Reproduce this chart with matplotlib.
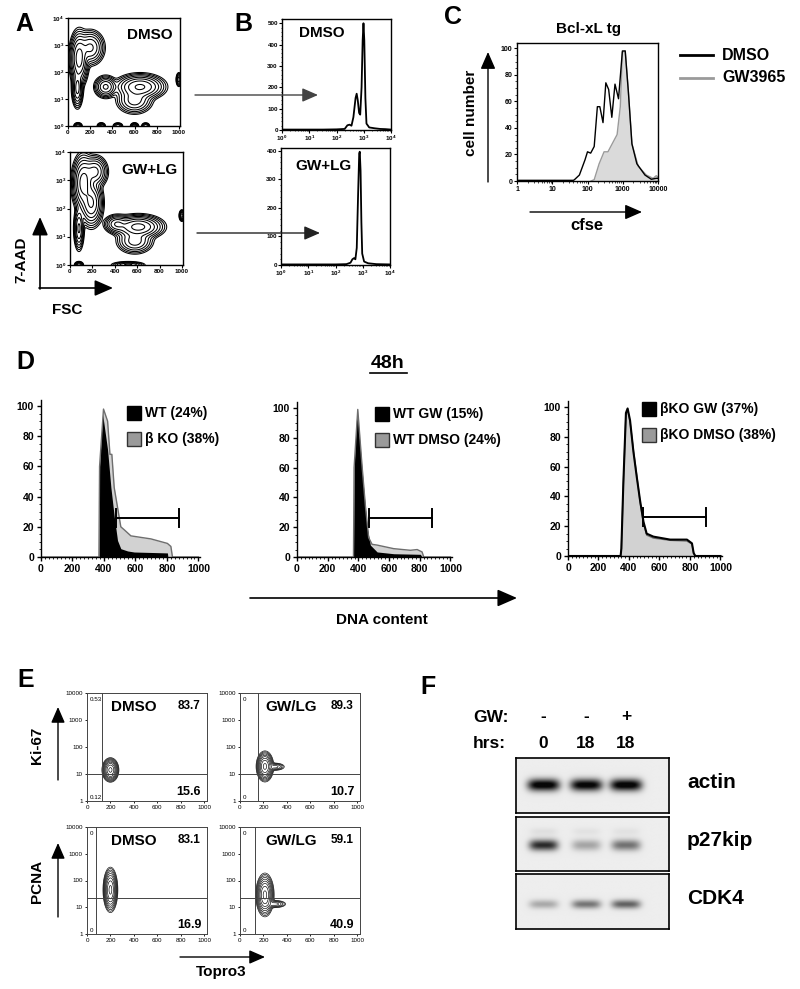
import numpy as np
import matplotlib.pyplot as plt
from matplotlib.ticker import MultipleLocator, FixedLocator, LogLocator

plt.rcParams['font.family'] = ['Liberation Sans', 'DejaVu Sans']
plt.rcParams['font.weight'] = 'bold'
plt.rcParams['mathtext.fontset'] = 'custom'
plt.rcParams['mathtext.rm'] = 'Liberation Sans:bold'
plt.rcParams['mathtext.it'] = 'Liberation Sans:bold'
plt.rcParams['mathtext.bf'] = 'Liberation Sans:bold'
plt.rcParams['axes.linewidth'] = 1.0

# ---------------- data ----------------
# A: 7-AAD vs FSC populations (fsc centre, log10 7-AAD centre, sd fsc, sd log, weight)
a_dmso_pops = [(100, 2.5, 32, 0.38, 1.0), (200, 2.9, 50, 0.25, 0.45), (85, 1.4, 20, 0.28, 0.5),
               (650, 1.45, 85, 0.18, 0.8), (340, 1.45, 40, 0.16, 0.45), (600, 0.95, 65, 0.2, 0.3),
               (1000, 1.72, 10, 0.1, 0.3), (90, 0.0, 15, 0.05, 0.3), (300, 0.0, 15, 0.05, 0.25),
               (450, 0.0, 18, 0.05, 0.2), (600, 0.0, 15, 0.05, 0.25), (700, 0.0, 15, 0.05, 0.2)]
a_gwlg_pops = [(120, 2.9, 38, 0.38, 1.0), (190, 2.2, 40, 0.32, 0.8), (80, 1.3, 18, 0.3, 0.45),
               (220, 3.3, 45, 0.22, 0.5), (610, 1.35, 85, 0.16, 0.9), (420, 1.45, 45, 0.13, 0.4),
               (580, 0.85, 65, 0.18, 0.3), (1000, 1.75, 10, 0.08, 0.3), (80, 0.0, 16, 0.05, 0.3),
               (520, 0.0, 60, 0.05, 0.25)]

# B: histograms (log10 intensity, count)
b_dmso_lx = [0, 0.5, 1, 1.5, 2, 2.3, 2.4, 2.48, 2.55, 2.62, 2.7, 2.74, 2.78, 2.83, 2.87, 2.92,
             2.96, 2.99, 3.02, 3.06, 3.1, 3.2, 3.4, 3.6, 3.8, 4]
b_dmso_y = [2, 2, 2, 2, 3, 5, 22, 25, 20, 60, 150, 170, 140, 80, 72, 200, 420, 500, 420, 150, 30,
            12, 8, 5, 4, 2]
b_gwlg_lx = [0, 1, 2, 2.4, 2.55, 2.62, 2.68, 2.73, 2.78, 2.83, 2.87, 2.89, 2.92, 2.95, 2.98, 3.05,
             3.2, 3.5, 4]
b_gwlg_y = [2, 2, 2, 3, 8, 20, 24, 20, 60, 250, 390, 397, 330, 150, 40, 12, 6, 3, 2]

# C: cfse dilution (log10 cfse, % max)
c_dmso_lx = [0, 1.0, 1.6, 1.63, 1.77, 1.93, 2.0, 2.09, 2.19, 2.28, 2.35, 2.44, 2.52, 2.6, 2.69,
             2.78, 2.88, 2.99, 3.07, 3.16, 3.26, 3.4, 3.63, 3.81, 3.95, 4.0]
c_dmso_y = [0.5, 0.5, 0.5, 1, 4.5, 16, 22, 21, 26, 56, 56, 44, 74, 69, 48, 73, 62, 98, 98, 67, 28,
            13, 4.5, 1.3, 2, 2]
c_gw_lx = [2.1, 2.19, 2.33, 2.47, 2.58, 2.7, 2.84, 2.93, 2.99, 3.07, 3.16, 3.26, 3.44, 3.67, 3.86,
           3.95, 4.0]
c_gw_y = [0, 1, 13, 22, 22, 28, 35, 56, 97, 98, 67, 28, 11, 4.5, 2, 4, 3]

# D: DNA content histograms
d1_wt_x = [0, 368, 372, 391, 423, 444, 465, 486, 507, 550, 592, 700, 803, 806, 1000]
d1_wt_y = [0, 0, 60, 95, 71, 46, 27, 11, 5.5, 4, 3.3, 3, 2.7, 0, 0]
d1_ko_x = [0, 368, 372, 397, 423, 438, 450, 465, 486, 507, 529, 571, 634, 698, 803, 825, 835, 1000]
d1_ko_y = [0, 0, 60, 98, 90, 68, 68, 46, 33, 20, 18, 14, 13, 12, 9, 7, 0, 0]
d2_gw_x = [0, 368, 372, 391, 413, 435, 457, 478, 522, 630, 804, 815, 1000]
d2_gw_y = [0, 0, 60, 100, 72, 45, 20, 8, 3.4, 2.2, 1.8, 0, 0]
d2_dmso_x = [0, 368, 372, 396, 424, 446, 467, 489, 522, 630, 739, 783, 815, 826, 1000]
d2_dmso_y = [0, 0, 60, 99, 61, 34, 13, 8.5, 8, 5.6, 4.5, 5, 3.4, 0, 0]
d3_gw_x = [0, 345, 350, 363, 380, 391, 407, 429, 451, 473, 495, 516, 560, 670, 780, 813, 824, 835, 1000]
d3_gw_y = [0, 0, 5, 49, 96, 99, 91, 70, 53, 37, 23, 15, 13, 11, 11, 8.5, 2, 0, 0]
d3_dmso_x = [0, 345, 350, 363, 380, 391, 407, 429, 451, 473, 495, 516, 560, 670, 780, 813, 824, 835, 1000]
d3_dmso_y = [0, 0, 5, 48, 95, 98, 90, 71, 54, 36, 22, 14, 12, 10.5, 10, 8, 2, 0, 0]
d_gates = [(476, 877), (467, 880), (490, 903)]
d_labels = [('WT (24%)', 'β KO (38%)'), ('WT GW (15%)', 'WT DMSO (24%)'),
            ('βKO GW (37%)', 'βKO DMSO (38%)')]

# E: Ki-67 / PCNA vs Topro3 (x centre, log10 y centre, sd x, sd log, weight)
e_pops = [
    [(200, 1.15, 24, 0.15, 1.0)],
    [(213, 1.28, 25, 0.19, 1.0), (300, 1.27, 35, 0.06, 0.12)],
    [(200, 1.65, 21, 0.28, 1.0)],
    [(213, 1.46, 26, 0.27, 1.0), (300, 1.12, 40, 0.06, 0.12)],
]
e_titles = ['DMSO', 'GW/LG', 'DMSO', 'GW/LG']
e_upper_right = ['83.7', '89.3', '83.1', '59.1']
e_lower_right = ['15.6', '10.7', '16.9', '40.9']
e_upper_left = ['0.53', '0', '0', '0']
e_lower_left = ['0.12', '0', '0', '0']
e_gate_x = [128, 156, 77, 128]
e_gate_y = [10, 10, 22, 23]

# F: western blot band intensities per lane
f_gw = ['-', '-', '+']
f_hrs = ['0', '18', '18']
f_blots = ['actin', 'p27kip', 'CDK4']
f_actin = [1.0, 0.97, 1.0]
f_p27 = [0.95, 0.35, 0.6]
f_p27_upper = [0.12, 0.1, 0.1]
f_cdk4 = [0.35, 0.62, 0.72]

# ---------------- layout ----------------
W, H = 800, 989
fig = plt.figure(figsize=(W / 100, H / 100), dpi=100)


def ax_px(l, t, r, b):
    return fig.add_axes([l / W, 1 - b / H, (r - l) / W, (b - t) / H])


def density(pops, xs, ly):
    X, Y = np.meshgrid(xs, ly)
    Z = np.zeros_like(X)
    for cx, cy, sx, sy, w in pops:
        Z += w * np.exp(-0.5 * ((X - cx) / sx) ** 2 - 0.5 * ((Y - cy) / sy) ** 2)
    return X, 10 ** Y, Z


log_labels = [r'$10^{%d}$' % i for i in range(5)]

# ---- A ----
for pops, box in [(a_dmso_pops, (68, 18, 180, 126)), (a_gwlg_pops, (70, 152, 183, 265))]:
    ax = ax_px(*box)
    X, Y, Z = density(pops, np.linspace(-20, 1060, 400), np.linspace(-0.4, 4.2, 400))
    ax.contour(X, Y, Z, levels=np.geomspace(0.01, 0.7, 8) * Z.max(), colors='k', linewidths=0.75)
    ax.set_yscale('log')
    ax.set_xlim(0, 1010)
    ax.set_ylim(1, 1e4)
    ax.set_xticks(range(0, 1001, 200))
    ax.yaxis.set_major_locator(FixedLocator([1, 10, 100, 1000, 10000]))
    ax.yaxis.set_minor_locator(FixedLocator([]))
    ax.set_yticklabels(log_labels)
    ax.tick_params(labelsize=4.5, length=2, width=0.8, pad=1)

# ---- B ----
for lx, y, box, ymax, yt in [(b_dmso_lx, b_dmso_y, (282, 19, 391, 130), 520, range(0, 501, 100)),
                              (b_gwlg_lx, b_gwlg_y, (281, 148, 390, 265), 410, range(0, 401, 100))]:
    ax = ax_px(*box)
    ax.plot(10 ** np.array(lx), y, color='k', lw=1.3)
    ax.set_xscale('log')
    ax.set_xlim(1, 1e4)
    ax.set_ylim(0, ymax)
    ax.set_yticks(list(yt))
    ax.yaxis.set_minor_locator(MultipleLocator(20))
    ax.xaxis.set_major_locator(FixedLocator([1, 10, 100, 1000, 10000]))
    ax.xaxis.set_minor_locator(LogLocator(subs=np.arange(2, 10)))
    ax.set_xticklabels(log_labels)
    ax.tick_params(labelsize=4.5, length=2, width=0.8, pad=1)
    ax.tick_params(which='minor', length=1, width=0.5)

# ---- C ----
ax = ax_px(517, 43, 658, 181)
ax.fill_between(10 ** np.array(c_gw_lx), c_gw_y, color='#dadada', lw=0)
ax.plot(10 ** np.array(c_gw_lx), c_gw_y, color='#9a9a9a', lw=1.0)
ax.plot(10 ** np.array(c_dmso_lx), c_dmso_y, color='k', lw=1.0)
ax.set_xscale('log')
ax.set_xlim(1, 1e4)
ax.set_ylim(0, 104)
ax.set_yticks(range(0, 101, 20))
ax.yaxis.set_minor_locator(MultipleLocator(5))
ax.xaxis.set_major_locator(FixedLocator([1, 10, 100, 1000, 10000]))
ax.xaxis.set_minor_locator(LogLocator(subs=np.arange(2, 10)))
ax.set_xticklabels(['1', '10', '100', '1000', '10000'])
ax.tick_params(labelsize=5, length=2, width=0.8, pad=1.5)
ax.tick_params(which='minor', length=1.2, width=0.5)

# ---- D ----
d_boxes = [(41, 400, 200, 557), (297, 402, 452, 557), (568, 401, 722, 556)]
d_series = [(d1_ko_x, d1_ko_y, d1_wt_x, d1_wt_y), (d2_dmso_x, d2_dmso_y, d2_gw_x, d2_gw_y),
            (d3_dmso_x, d3_dmso_y, d3_gw_x, d3_gw_y)]
for i, (box, (gx, gy, bx, by), gate) in enumerate(zip(d_boxes, d_series, d_gates)):
    ax = ax_px(*box)
    ax.fill_between(gx, gy, color='#d2d2d2', lw=0)
    ax.plot(gx, gy, color='#6e6e6e', lw=1.0)
    if i < 2:
        ax.fill_between(bx, by, color='k', lw=0)
    else:
        ax.plot(bx, by, color='k', lw=1.5)
    ax.plot(gate, [26, 26], color='k', lw=1.4)
    for g in gate:
        ax.plot([g, g], [20, 32], color='k', lw=1.4)
    ax.set_xlim(0, 1010)
    ax.set_ylim(0, 104)
    ax.set_xticks(range(0, 1001, 200))
    ax.set_yticks(range(0, 101, 20))
    ax.xaxis.set_minor_locator(MultipleLocator(25))
    ax.yaxis.set_minor_locator(MultipleLocator(5))
    for s in ['top', 'right']:
        ax.spines[s].set_visible(False)
    ax.tick_params(labelsize=7.5, length=3, width=1, pad=2)
    ax.tick_params(which='minor', length=1.5, width=0.6)

# ---- E ----
e_boxes = [(87, 693, 207, 801), (240, 693, 360, 801), (87, 827, 207, 934), (240, 827, 360, 934)]
for i, box in enumerate(e_boxes):
    ax = ax_px(*box)
    X, Y, Z = density(e_pops[i], np.linspace(0, 1030, 400), np.linspace(-0.1, 4.1, 400))
    ax.contour(X, Y, Z, levels=np.geomspace(0.01, 0.85, 9) * Z.max(), colors='k', linewidths=0.45)
    ax.axvline(e_gate_x[i], color='#444', lw=0.7)
    ax.axhline(e_gate_y[i], color='#444', lw=0.7)
    ax.set_yscale('log')
    ax.set_xlim(0, 1025)
    ax.set_ylim(1, 1e4)
    ax.set_xticks(range(0, 1001, 200))
    ax.yaxis.set_major_locator(FixedLocator([1, 10, 100, 1000, 10000]))
    ax.yaxis.set_minor_locator(FixedLocator([]))
    ax.set_yticklabels(['1', '10', '100', '1000', '10000'])
    for lab in ax.get_xticklabels() + ax.get_yticklabels():
        lab.set_fontweight('normal')
    ax.tick_params(labelsize=4.5, length=1.5, width=0.6, pad=1.5)
    for s in ax.spines.values():
        s.set_linewidth(0.7)
        s.set_color('#444')
    ax.text(0.02, 0.96, e_upper_left[i], transform=ax.transAxes, fontsize=4.5,
            fontweight='normal', va='top', ha='left')
    ax.text(0.02, 0.01, e_lower_left[i], transform=ax.transAxes, fontsize=4.5,
            fontweight='normal', va='bottom', ha='left')
    ax.text(0.39 if i % 2 == 0 else 0.43, 0.87, e_titles[i], transform=ax.transAxes,
            fontsize=11, va='center', ha='center')
    ax.text(0.85, 0.88, e_upper_right[i], transform=ax.transAxes, fontsize=8.5,
            va='center', ha='center')
    ax.text(0.85, 0.08, e_lower_right[i], transform=ax.transAxes, fontsize=9,
            va='center', ha='center')

# ---- F ----
f_boxes = [(516, 758, 669, 813), (516, 817, 669, 871), (516, 874, 669, 929)]
lanes = np.array([0.18, 0.46, 0.72])
xx = np.linspace(0, 1, 320)
yy = np.linspace(0, 1, 120)
XX, YY = np.meshgrid(xx, yy)
band_sets = [[(f_actin, 0.49, 0.105, 0.11, 1.1)],
             [(f_p27, 0.53, 0.095, 0.1, 0.9), (f_p27_upper, 0.28, 0.09, 0.07, 0.5)],
             [(f_cdk4, 0.55, 0.095, 0.08, 0.85)]]
for box, bands, name in zip(f_boxes, band_sets, f_blots):
    ax = ax_px(*box)
    dark = np.zeros_like(XX)
    for inten, yc, wx, wy, scale in bands:
        for lx, a in zip(lanes, inten):
            dark += scale * a * np.exp(-((XX - lx) / wx) ** 4 - ((YY - yc) / wy) ** 2)
    img = 0.93 - 0.9 * np.clip(dark, 0, 1)
    ax.imshow(img, cmap='gray', vmin=0, vmax=1, extent=(0, 1, 1, 0), aspect='auto',
              interpolation='bilinear')
    ax.set_xlim(0, 1)
    ax.set_ylim(1, 0)
    ax.set_xticks([])
    ax.set_yticks([])
    for s in ax.spines.values():
        s.set_linewidth(1.2)

# ---------------- overlay: labels and arrows ----------------
ov = fig.add_axes([0, 0, 1, 1])
ov.set_xlim(0, W)
ov.set_ylim(H, 0)
ov.axis('off')
ov.patch.set_visible(False)


def arrow(x1, y1, x2, y2, color='k', lw=1.2, scale=14):
    ov.annotate('', xy=(x2, y2), xytext=(x1, y1),
                arrowprops=dict(arrowstyle='-|>,head_length=0.8,head_width=0.35', color=color,
                                lw=lw, shrinkA=0, shrinkB=0, mutation_scale=scale))


for letter, x, y in [('A', 24, 24), ('B', 243, 24), ('C', 453, 17), ('D', 25, 362),
                     ('E', 26, 680), ('F', 428, 687)]:
    ov.text(x, y, letter, fontsize=18, ha='center', va='center')

# A
ov.text(150, 35, 'DMSO', fontsize=11, ha='center', va='center')
ov.text(150, 170, 'GW+LG', fontsize=11, ha='center', va='center')
arrow(40, 289, 40, 217)
arrow(39, 288, 113, 288)
ov.text(21, 260, '7-AAD', fontsize=11, rotation=90, ha='center', va='center')
ov.text(67, 310, 'FSC', fontsize=11, ha='center', va='center')
arrow(195, 95, 318, 95, color='#444', lw=1.0, scale=12)
arrow(197, 233, 320, 233, color='#222', lw=1.0, scale=12)

# B
ov.text(322, 33, 'DMSO', fontsize=11, ha='center', va='center')
ov.text(324, 166, 'GW+LG', fontsize=11, ha='center', va='center')

# C
ov.text(589, 29, 'Bcl-xL tg', fontsize=11, ha='center', va='center')
arrow(488, 182, 488, 52, lw=1.0, scale=13)
ov.text(471, 113, 'cell number', fontsize=11, rotation=90, ha='center', va='center')
arrow(530, 212, 642, 212, lw=1.0, scale=13)
ov.text(587, 226, 'cfse', fontsize=12, ha='center', va='center')
ov.plot([680, 713], [55, 55], color='k', lw=2)
ov.plot([680, 713], [78, 78], color='#9a9a9a', lw=2)
ov.text(722, 55, 'DMSO', fontsize=11.5, ha='left', va='center')
ov.text(722, 78, 'GW3965', fontsize=11.5, ha='left', va='center')

# D
ov.text(388, 364, '48h', fontsize=14, ha='center', va='center')
ov.plot([370, 407], [373, 373], color='k', lw=1.2)
for (x0, y0), (t1, t2) in zip([(127, 406), (375, 407), (642, 402)], d_labels):
    ov.add_patch(plt.Rectangle((x0, y0), 14, 14, facecolor='k', edgecolor='k', lw=1))
    ov.add_patch(plt.Rectangle((x0, y0 + 26), 14, 14, facecolor='#9a9a9a', edgecolor='#333', lw=1))
    ov.text(x0 + 18, y0 + 7, t1, fontsize=10, ha='left', va='center')
    ov.text(x0 + 18, y0 + 33, t2, fontsize=10, ha='left', va='center')
arrow(250, 598, 517, 598, lw=1.2, scale=15)
ov.text(382, 620, 'DNA content', fontsize=11, ha='center', va='center')

# E
arrow(58, 780, 58, 707, lw=1.0, scale=12)
arrow(58, 917, 58, 843, lw=1.0, scale=12)
ov.text(37, 745, 'Ki-67', fontsize=11, rotation=90, ha='center', va='center')
ov.text(37, 881, 'PCNA', fontsize=11, rotation=90, ha='center', va='center')
arrow(180, 957, 265, 957, lw=1.0, scale=12)
ov.text(221, 972, 'Topro3', fontsize=11, ha='center', va='center')

# F
ov.text(473, 717, 'GW:', fontsize=12.5, ha='left', va='center')
ov.text(473, 744, 'hrs:', fontsize=12.5, ha='left', va='center')
for x, g, h in zip([543, 586, 626], f_gw, f_hrs):
    ov.text(x, 717, g, fontsize=12.5, ha='center', va='center')
    ov.text(x, 744, h, fontsize=12.5, ha='center', va='center')
for y, name in zip([783, 841, 898], f_blots):
    ov.text(687, y, name, fontsize=15, ha='left', va='center')

fig.savefig('out.png', dpi=100)
